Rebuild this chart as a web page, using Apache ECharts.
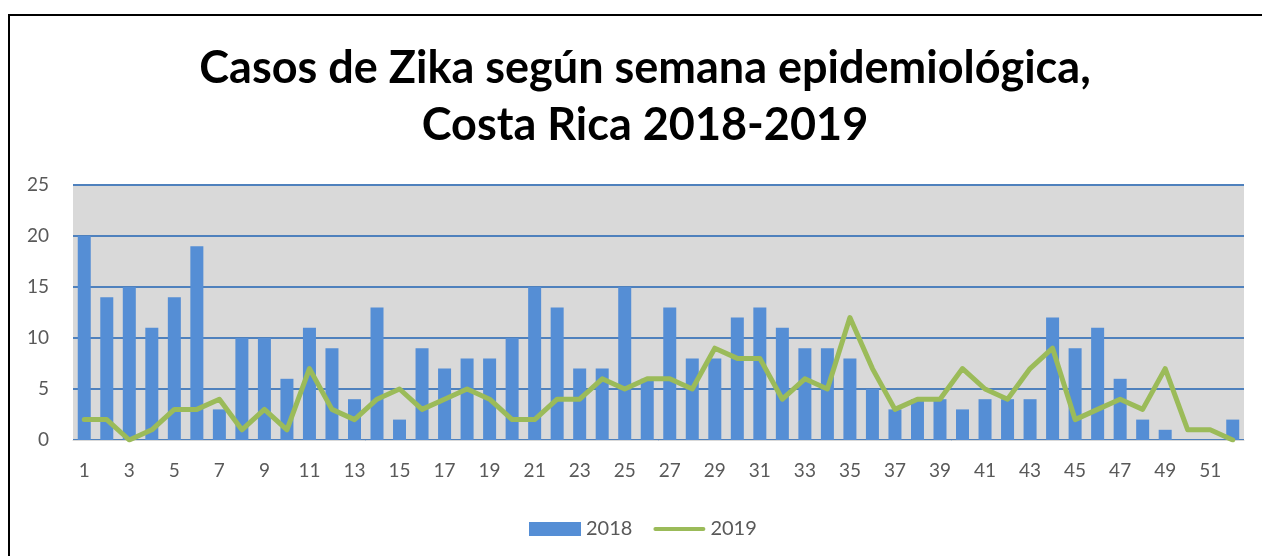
<!DOCTYPE html>
<html>
<head>
<meta charset="utf-8">
<title>Casos de Zika según semana epidemiológica</title>
<script src="https://cdn.jsdelivr.net/npm/echarts/dist/echarts.min.js"></script>
<style>
  html, body { margin: 0; padding: 0; background: #fff; overflow: hidden; }
  #frame {
    position: absolute; left: 8px; top: 14px;
    width: 1300px; height: 600px;
    border: 2px solid #000; box-sizing: border-box;
  }
  #chart { position: absolute; left: 0; top: 0; width: 1262px; height: 556px; }
</style>
</head>
<body>
<div id="frame"></div>
<div id="chart"></div>
<script>
// semanas epidemiológicas 1..52
const weeks = ['1','2','3','4','5','6','7','8','9','10','11','12','13','14','15','16','17','18','19','20',
  '21','22','23','24','25','26','27','28','29','30','31','32','33','34','35','36','37','38','39','40',
  '41','42','43','44','45','46','47','48','49','50','51','52']

const cases2018 = [20, 14, 15, 11, 14, 19, 3, 10, 10, 6, 11, 9, 4, 13, 2, 9, 7, 8, 8, 10,
  15, 13, 7, 7, 15, 6, 13, 8, 8, 12, 13, 11, 9, 9, 8, 5, 3, 4, 4, 3,
  4, 4, 4, 12, 9, 11, 6, 2, 1, 0, 0, 2]

const cases2019 = [2, 2, 0, 1, 3, 3, 4, 1, 3, 1, 7, 3, 2, 4, 5, 3, 4, 5, 4, 2,
  2, 4, 4, 6, 5, 6, 6, 5, 9, 8, 8, 4, 6, 5, 12, 7, 3, 4, 4, 7,
  5, 4, 7, 9, 2, 3, 4, 3, 7, 1, 1, 0]

const yTicks = { min: 0, max: 25, interval: 5 }

const font = 'Lato, "Open Sans", sans-serif'
const labelColor = '#595959'
const lineColor = '#9BBB59'

// thin bar inside a 52x14 box (the lone moves keep the box height)
const lineIcon = 'path://M0,0M0,14M2,5L50,5A2,2 0 0 1 50,9L2,9A2,2 0 0 1 2,5Z'

const chart = echarts.init(document.getElementById('chart'))

chart.setOption({
  animation: false,
  title: {
    text: 'Casos de Zika según semana epidemiológica,\nCosta Rica 2018-2019',
    left: 640,
    textAlign: 'center',
    top: 35,
    textStyle: {
      fontFamily: font,
      fontWeight: 'bold',
      fontSize: 45,
      lineHeight: 57,
      color: '#000',
    },
  },
  grid: {
    left: 73, right: 18, top: 185, bottom: 116,
    show: true,
    backgroundColor: '#D9D9D9',
    borderWidth: 0,
  },
  legend: {
    left: 524,
    top: 514,
    itemWidth: 52,
    itemHeight: 14,
    itemGap: 21,
    textStyle: { fontFamily: font, fontSize: 20, color: labelColor },
    data: [
      { name: '2018', icon: 'rect' },
      { name: '2019', icon: lineIcon, itemStyle: { color: lineColor } },
    ],
  },
  xAxis: {
    type: 'category',
    data: weeks,
    axisTick: { show: false },
    axisLine: { show: true, lineStyle: { color: '#D9D9D9' } },
    axisLabel: {
      interval: 1,
      margin: 21,
      fontFamily: font,
      fontSize: 19,
      color: labelColor,
    },
  },
  yAxis: {
    type: 'value',
    min: yTicks.min,
    max: yTicks.max,
    interval: yTicks.interval,
    axisLine: { show: false },
    axisTick: { show: false },
    axisLabel: { margin: 24, fontFamily: font, fontSize: 19, color: labelColor },
    splitLine: { lineStyle: { color: '#4F81BD', width: 2 } },
  },
  series: [
    {
      name: '2018',
      type: 'bar',
      data: cases2018,
      barWidth: 13,
      itemStyle: { color: '#558ED5' },
    },
    {
      name: '2019',
      type: 'line',
      data: cases2019,
      symbol: 'none',
      z: 3,
      lineStyle: { color: lineColor, width: 5, cap: 'round', join: 'round' },
      itemStyle: { color: lineColor },
    },
  ],
})
</script>
</body>
</html>
